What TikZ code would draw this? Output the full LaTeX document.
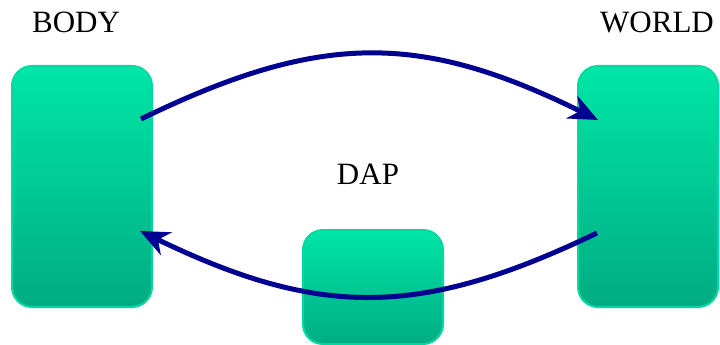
\documentclass[tikz,border=0pt]{standalone}
\usepackage{fontspec}
\setmainfont{Liberation Serif}
\usetikzlibrary{arrows.meta}
\definecolor{boxtop}{RGB}{0,230,166}
\definecolor{boxbot}{RGB}{0,172,130}
\definecolor{boxedge}{RGB}{0,218,160}
\definecolor{flow}{RGB}{0,0,145}
\begin{document}
\begin{tikzpicture}[x=1pt,y=-1pt,
  block/.style={rectangle, rounded corners=20pt, draw=boxedge, line width=2pt,
    top color=boxtop, bottom color=boxbot, minimum width=140pt, inner sep=0pt},
  caption/.style={anchor=base, inner sep=0pt, font=\fontsize{31}{31}\selectfont},
  flowline/.style={draw=flow, line width=5pt,
    -{Stealth[length=29pt, width=25pt, inset=9pt]}}]
  \useasboundingbox (0,0) rectangle (720,345);
  % the three blocks
  \node[block, minimum height=241pt] (body) at (82,186.5) {};
  \node[block, minimum height=241pt] (world) at (648,186.5) {};
  \node[block, minimum height=114pt] (dap) at (373,287) {};
  % labels
  \node[caption] (lbody) at (76,33) {BODY};
  \node[caption] (lworld) at (657,33) {WORLD};
  \node[caption] (ldap) at (368,184) {DAP};
  % arrow ends inside the blocks
  \coordinate (bodyout) at (141,119);
  \coordinate (worldin) at (598,120);
  \coordinate (worldout) at (597,233);
  \coordinate (bodyin) at (140,231);
  % body to world over the top, world back to body under the bottom
  \draw[flowline] (bodyout) .. controls (320,32) and (420,32) .. (worldin);
  \draw[flowline] (worldout) .. controls (420,318) and (320,318) .. (bodyin);
\end{tikzpicture}
\end{document}
